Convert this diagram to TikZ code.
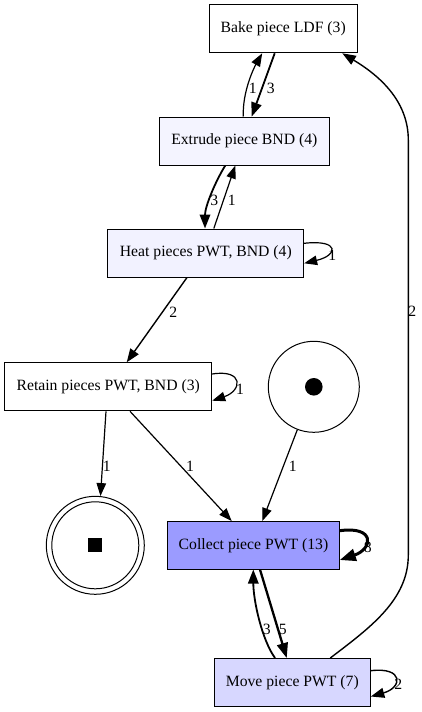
\documentclass[tikz,border=0pt]{standalone}
\usepackage{fontspec}
\setmainfont{Liberation Serif}
\usetikzlibrary{arrows.meta,calc}
\definecolor{extrc}{HTML}{F4F4FF}
\definecolor{heatc}{HTML}{F2F2FF}
\definecolor{collc}{HTML}{9B9BFF}
\definecolor{movec}{HTML}{D7D7FF}
\begin{document}
\begin{tikzpicture}[x=1pt,y=-1pt,
  every node/.style={font=\fontsize{15.7}{18}\selectfont},
  box/.style={draw, line width=1pt, rectangle, inner sep=0pt, minimum height=48pt},
  lbl/.style={inner sep=0pt},
  w1/.style={line width=1.2pt, -{Triangle[length=13pt,width=9.5pt]}},
  w2/.style={line width=1.4pt, -{Triangle[length=13.5pt,width=10pt]}},
  w3/.style={line width=1.8pt, -{Triangle[length=14pt,width=10.5pt]}},
  w5/.style={line width=2.3pt, -{Triangle[length=15pt,width=11pt]}},
  w8/.style={line width=3pt, -{Triangle[length=16pt,width=12pt]}}
]
\fill[white] (0,0) rectangle (422,712);
\useasboundingbox (0,0) rectangle (422,712);

% nodes
\node[box, minimum width=148pt] (bake) at (283.2,28.8) {Bake piece LDF (3)};
\node[box, fill=extrc, minimum width=170pt] (extr) at (244.3,141) {Extrude piece BND (4)};
\node[box, fill=heatc, minimum width=195.7pt] (heat) at (205.8,253) {Heat pieces PWT, BND (4)};
\node[box, minimum width=207pt] (ret) at (108.2,386.8) {Retain pieces PWT, BND (3)};
\node[draw, circle, line width=1pt, minimum size=91pt, inner sep=0pt] (start) at (313.8,386.8) {};
\node[circle, fill=black, minimum size=17.6pt, inner sep=0pt] (startdot) at (start.center) {};
\node[draw, circle, line width=1pt, minimum size=98pt, inner sep=0pt] (end) at (95.3,545.3) {};
\node[draw, circle, line width=1pt, minimum size=87pt, inner sep=0pt] (endin) at (end.center) {};
\node[fill=black, minimum size=14pt, inner sep=0pt] (endsq) at (end.center) {};
\node[box, fill=collc, minimum width=171.6pt, minimum height=47.5pt] (coll) at (253.5,545.3) {Collect piece PWT (13)};
\node[box, fill=movec, minimum width=156pt] (move) at (292.3,682.5) {Move piece PWT (7)};

% edges
\draw[w1] ($(extr.north)+(-1,0)$) .. controls +(-1,-25) and +(-8,14) .. ($(bake.south)+(-21,0)$);
\draw[w3] ($(bake.south)+(-8.5,0)$) -- ($(extr.north)+(7.4,0)$);
\draw[w3] ($(extr.south)+(-19,0)$) .. controls +(-10,16) and +(0,-22) .. ($(heat.north)+(-0.8,0)$);
\draw[w1] ($(heat.north)+(8,0)$) -- ($(extr.south)+(-9,0)$);
\draw[w1] ($(heat.east)+(0,-9.7)$) .. controls +(36,-4) and +(34,-8) .. ($(heat.east)+(0,10.3)$);
\draw[w2] ($(heat.south)+(-18.8,0)$) -- ($(ret.north)+(18.5,0)$);
\draw[w1] ($(ret.east)+(0,-12.8)$) .. controls +(32,-5) and +(30,-10) .. ($(ret.east)+(0,13.9)$);
\draw[w1] ($(ret.south)+(-2.2,0)$) -- (end.84.5);
\draw[w1] ($(ret.south)+(21.8,0)$) -- ($(coll.north)+(-21.8,0)$);
\draw[w1] (start.249) -- ($(coll.north)+(8.8,0)$);
\draw[w8] ($(coll.east)+(0,-14.6)$) .. controls +(36,-5) and +(33,-11) .. ($(coll.east)+(0,14.7)$);
\draw[w5] ($(coll.south)+(6.5,0)$) -- ($(move.north)+(-5.6,0)$);
\draw[w3] ($(move.north)+(-17.3,0)$) .. controls +(-13,-18) and +(0,31) .. ($(coll.south)+(-0.2,0)$);
\draw[w2] ($(move.north)+(38,0)$) .. controls +(39.7,-30.3) and +(0,45) .. (408.3,555) -- (408.3,140) .. controls +(0,-40) and +(35.7,21.5) .. ($(bake.south)+(59.1,0)$);
\draw[w2] ($(move.east)+(0,-11.8)$) .. controls +(33,-4) and +(32,-9) .. ($(move.east)+(0,14)$);

% labels
\node[lbl] (l1) at (252.7,88.3) {1};
\node[lbl] (l2) at (270.7,88.3) {3};
\node[lbl] (l3) at (214.3,200) {3};
\node[lbl] (l4) at (231.7,200) {1};
\node[lbl] (l5) at (332.3,255.7) {1};
\node[lbl] (l6) at (173.3,312.3) {2};
\node[lbl] (l7) at (240,389.3) {1};
\node[lbl] (l8) at (106.7,466.7) {1};
\node[lbl] (l9) at (190,466.7) {1};
\node[lbl] (l10) at (292.7,466.7) {1};
\node[lbl] (l11) at (367.7,547.3) {8};
\node[lbl] (l12) at (282.7,629) {5};
\node[lbl] (l13) at (266.7,629) {3};
\node[lbl] (l14) at (412.3,311.7) {2};
\node[lbl] (l15) at (398.3,684.3) {2};
\end{tikzpicture}
\end{document}
